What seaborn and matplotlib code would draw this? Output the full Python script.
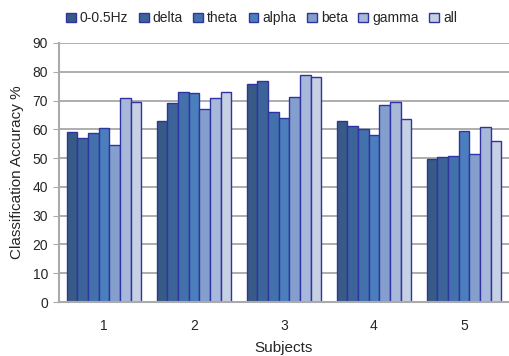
import pandas as pd
import matplotlib
matplotlib.use("Agg")
import matplotlib.pyplot as plt
import seaborn as sns

# Valeurs
subjects = ["1", "2", "3", "4", "5"]
bands = ["0-0.5Hz", "delta", "theta", "alpha", "beta", "gamma", "all"]
acc_low = [59.0, 63.0, 75.9, 63.0, 49.7]
acc_delta = [56.9, 69.2, 76.7, 61.3, 50.3]
acc_theta = [58.7, 73.1, 66.0, 60.2, 50.7]
acc_alpha = [60.4, 72.7, 64.0, 58.2, 59.5]
acc_beta = [54.5, 67.2, 71.2, 68.4, 51.5]
acc_gamma = [70.9, 70.9, 79.0, 69.6, 60.8]
acc_all = [69.6, 73.1, 78.2, 63.6, 55.9]

colors = ["#375A87", "#3C6499", "#4371AB", "#4B7EBC", "#849FCD", "#A8B8DA", "#C6D0E3"]

series = [acc_low, acc_delta, acc_theta, acc_alpha, acc_beta, acc_gamma, acc_all]
rows = []
for band, vals in zip(bands, series):
    for s, v in zip(subjects, vals):
        rows.append({"Subject": s, "Band": band, "Accuracy": v})
df = pd.DataFrame(rows)

sns.set_style("white")
plt.rcParams["font.family"] = ["Liberation Sans", "DejaVu Sans"]

fig = plt.figure(figsize=(5.09, 3.56), dpi=100)
ax = fig.add_axes([59 / 509, 54 / 356, 450 / 509, 259 / 356])

sns.barplot(data=df, x="Subject", y="Accuracy", hue="Band", palette=colors,
            saturation=1, width=0.83, edgecolor="#2F34A0", linewidth=1.0,
            ax=ax, legend=True)

ax.set_ylim(0, 90)
ax.set_xlim(-0.5, 4.5)
ax.set_yticks(range(0, 91, 10))
ax.yaxis.grid(True, color="#a0a0a0", linewidth=1.2)
ax.set_axisbelow(True)
for side in ["top", "right"]:
    ax.spines[side].set_visible(False)
ax.spines["left"].set_color("#aaaaaa")
ax.spines["bottom"].set_color("#aaaaaa")
ax.spines["left"].set_linewidth(1.5)
ax.spines["bottom"].set_linewidth(1.5)
ax.tick_params(axis="y", length=4, color="#aaaaaa", labelsize=10, pad=4, left=True)
ax.tick_params(axis="x", length=0, labelsize=10, pad=12)
ax.set_xlabel("Subjects", fontsize=11, labelpad=6)
ax.set_ylabel("Classification Accuracy %", fontsize=11, labelpad=6)

handles, labels = ax.get_legend_handles_labels()
ax.legend(handles, labels, loc="upper center", bbox_to_anchor=(0.45, 1.17), ncol=7,
          frameon=False, fontsize=10, handlelength=0.7, handleheight=0.7,
          handletextpad=0.3, columnspacing=0.75)

fig.savefig("out.png", dpi=100)
